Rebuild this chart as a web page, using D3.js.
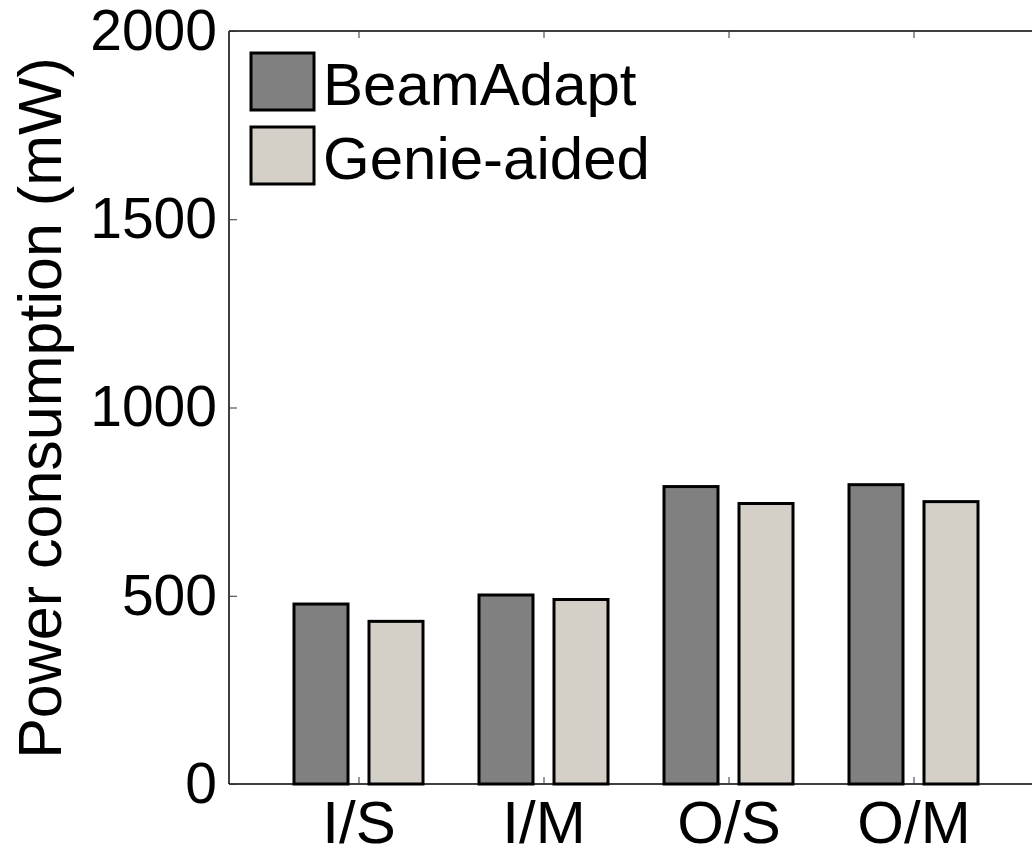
<!DOCTYPE html>
<html>
<head>
<meta charset="utf-8">
<script src="https://cdn.jsdelivr.net/npm/d3@7"></script>
<style>
  body { margin: 0; background: #fff; }
  svg { display: block; font-family: "Liberation Sans", Arial, sans-serif; }
</style>
</head>
<body>
<div id="chart"></div>
<script>
// Data
const categories = ["I/S", "I/M", "O/S", "O/M"];
const series = ["BeamAdapt", "Genie-aided"];
const beamAdapt = [478, 502, 790, 795];
const genieAided = [432, 490, 745, 750];
const yTicks = [0, 500, 1000, 1500, 2000];
const colors = ["#808080", "#d4d0c8"];

const W = 1032, H = 849;
const plot = {left: 229, top: 31, bottom: 784, right: 1043};

const svg = d3.select("#chart")
    .append("svg")
    .attr("width", W)
    .attr("height", H);

// Scales (category index 1..4, matlab-like xlim)
const x = d3.scaleLinear()
    .domain([0.3, 4.7])
    .range([plot.left, plot.right]);

const xInner = d3.scaleBand()
    .domain(series)
    .range([-64.5, 64.5])
    .paddingInner(0.28);

const y = d3.scaleLinear()
    .domain([0, 2000])
    .range([plot.bottom, plot.top]);

const color = d3.scaleOrdinal()
    .domain(series)
    .range(colors);

// Flatten data
const rows = [];
categories.forEach((c, i) => {
    rows.push({cat: c, idx: i + 1, s: series[0], v: beamAdapt[i]});
    rows.push({cat: c, idx: i + 1, s: series[1], v: genieAided[i]});
});

// Bars
svg.append("g")
    .selectAll("rect")
    .data(rows)
    .enter()
    .append("rect")
    .attr("x", d => x(d.idx) + xInner(d.s))
    .attr("y", d => y(d.v))
    .attr("width", xInner.bandwidth())
    .attr("height", d => y(0) - y(d.v))
    .attr("fill", d => color(d.s))
    .attr("stroke", "#000")
    .attr("stroke-width", 3);

// Axes box lines
svg.append("line")
    .attr("x1", plot.left).attr("x2", plot.left)
    .attr("y1", plot.top).attr("y2", plot.bottom)
    .attr("stroke", "#000").attr("stroke-width", 1.5);
svg.append("line")
    .attr("x1", plot.left).attr("x2", plot.right)
    .attr("y1", plot.top).attr("y2", plot.top)
    .attr("stroke", "#000").attr("stroke-width", 1.5);
svg.append("line")
    .attr("x1", plot.left).attr("x2", plot.right)
    .attr("y1", plot.bottom).attr("y2", plot.bottom)
    .attr("stroke", "#000").attr("stroke-width", 1.5);

// Y axis
const yAxis = svg.append("g")
    .attr("transform", `translate(${plot.left},0)`)
    .call(d3.axisLeft(y)
        .tickValues(yTicks)
        .tickFormat(d3.format("d"))
        .tickSize(-8)
        .tickPadding(12));
yAxis.select(".domain").remove();
yAxis.selectAll("line").attr("stroke", "#333").attr("stroke-width", 1);
yAxis.selectAll("text")
    .attr("font-size", 57)
    .attr("font-family", "Liberation Sans, Arial, sans-serif")
    .attr("fill", "#000");

// X axis (bottom)
const xAxis = svg.append("g")
    .attr("transform", `translate(0,${plot.bottom})`)
    .call(d3.axisBottom(x)
        .tickValues([1, 2, 3, 4])
        .tickFormat(d => categories[d - 1])
        .tickSize(-7)
        .tickPadding(16));
xAxis.select(".domain").remove();
xAxis.selectAll("line").attr("stroke", "#333").attr("stroke-width", 1);
xAxis.selectAll("text")
    .attr("font-size", 60)
    .attr("font-family", "Liberation Sans, Arial, sans-serif")
    .attr("fill", "#000");

// Top ticks
const xTop = svg.append("g")
    .attr("transform", `translate(0,${plot.top})`)
    .call(d3.axisTop(x).tickValues([1, 2, 3, 4]).tickFormat("").tickSize(-7));
xTop.select(".domain").remove();
xTop.selectAll("line").attr("stroke", "#333").attr("stroke-width", 1);

// Y axis title
svg.append("text")
    .attr("transform", "rotate(-90)")
    .attr("x", -408)
    .attr("y", 61)
    .style("text-anchor", "middle")
    .attr("font-size", 61)
    .text("Power consumption (mW)");

// Legend
const legend = svg.append("g")
    .attr("transform", "translate(251,53)");

series.forEach((s, i) => {
    legend.append("rect")
        .attr("x", 0)
        .attr("y", i * 74)
        .attr("width", 63)
        .attr("height", 57)
        .attr("fill", color(s))
        .attr("stroke", "#000")
        .attr("stroke-width", 3);

    legend.append("text")
        .attr("x", 72)
        .attr("y", i * 74 + 52)
        .attr("font-size", 60)
        .text(s);
});
</script>
</body>
</html>
